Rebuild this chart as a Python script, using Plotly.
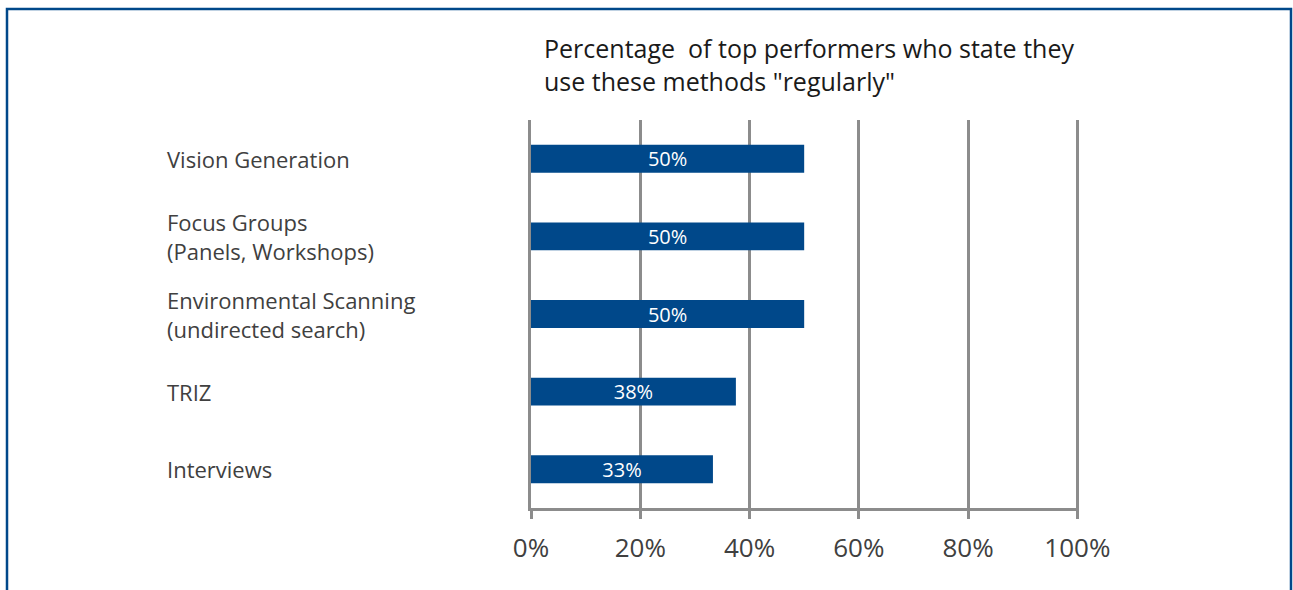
import plotly.graph_objects as go

# data
methods = [
    "Vision Generation",
    "Focus Groups<br>(Panels, Workshops)",
    "Environmental Scanning<br>(undirected search)",
    "TRIZ",
    "Interviews",
]
share_regular = [0.50, 0.50, 0.50, 0.375, 0.333]
bar_labels = ["50%", "50%", "50%", "38%", "33%"]
tick_vals = [0, 0.2, 0.4, 0.6, 0.8, 1.0]
tick_text = ["0%", "20%", "40%", "60%", "80%", "100%"]

BLUE = "#00488A"
GREY = "#8C8C8C"
TEXT = "#404040"
FONT = "Open Sans"

W, H = 1293, 590
L, R, T, B = 531, 214, 120, 82
PW = W - L - R
PH = H - T - B

fig = go.Figure()

fig.add_trace(go.Bar(
    x=share_regular,
    y=methods,
    orientation="h",
    width=0.36,
    marker=dict(color=BLUE, line=dict(width=0)),
    text=bar_labels,
    textposition="inside",
    insidetextanchor="middle",
    constraintext="none",
    textfont=dict(color="white", size=20, family=FONT),
    hoverinfo="skip",
))

# category labels, left aligned
for m in methods:
    fig.add_annotation(
        x=(165 - L) / PW, xref="paper", y=m, yref="y",
        text=m, showarrow=False, xanchor="left", yanchor="middle",
        align="left", font=dict(size=22, color=TEXT, family=FONT),
    )

# chart title
fig.add_annotation(
    x=(542 - L) / PW, xref="paper", y=(PH + T - 64) / PH, yref="paper",
    text='Percentage  of top performers who state they<br>use these methods "regularly"',
    showarrow=False, xanchor="left", yanchor="middle", align="left",
    font=dict(size=25, color="#1A1A1A", family=FONT),
)

# blue frame (left, top, right; bottom is cut off)
xl = (7 - L) / PW
xr = (1291 - L) / PW
yt = (PH + T - 9) / PH
fig.add_shape(
    type="path", xref="paper", yref="paper",
    path=f"M {xl},-0.3 L {xl},{yt} L {xr},{yt} L {xr},-0.3",
    line=dict(color=BLUE, width=2.5),
)

fig.update_xaxes(
    range=[0, 1.003],
    tickvals=tick_vals,
    ticktext=tick_text,
    showgrid=True, gridcolor=GREY, gridwidth=3,
    showline=True, linecolor=GREY, linewidth=3,
    ticks="outside", ticklen=8, tickwidth=3, tickcolor=GREY,
    ticklabelstandoff=7,
    tickfont=dict(size=26, color=TEXT, family=FONT),
    zeroline=False,
)
fig.update_yaxes(
    categoryorder="array", categoryarray=methods, autorange="reversed",
    showticklabels=False, showgrid=False,
    showline=True, linecolor=GREY, linewidth=3,
    ticks="",
)

fig.update_layout(
    width=W, height=H,
    margin=dict(l=L, r=R, t=T, b=B),
    paper_bgcolor="white", plot_bgcolor="white",
    showlegend=False,
    font=dict(family=FONT, color=TEXT),
)

# drop the page's default 8px body margin so the figure fills the window
fig.write_html(
    "out.html",
    config={"displayModeBar": False},
    post_script="document.body.style.margin='0';document.body.style.overflow='hidden';",
)
